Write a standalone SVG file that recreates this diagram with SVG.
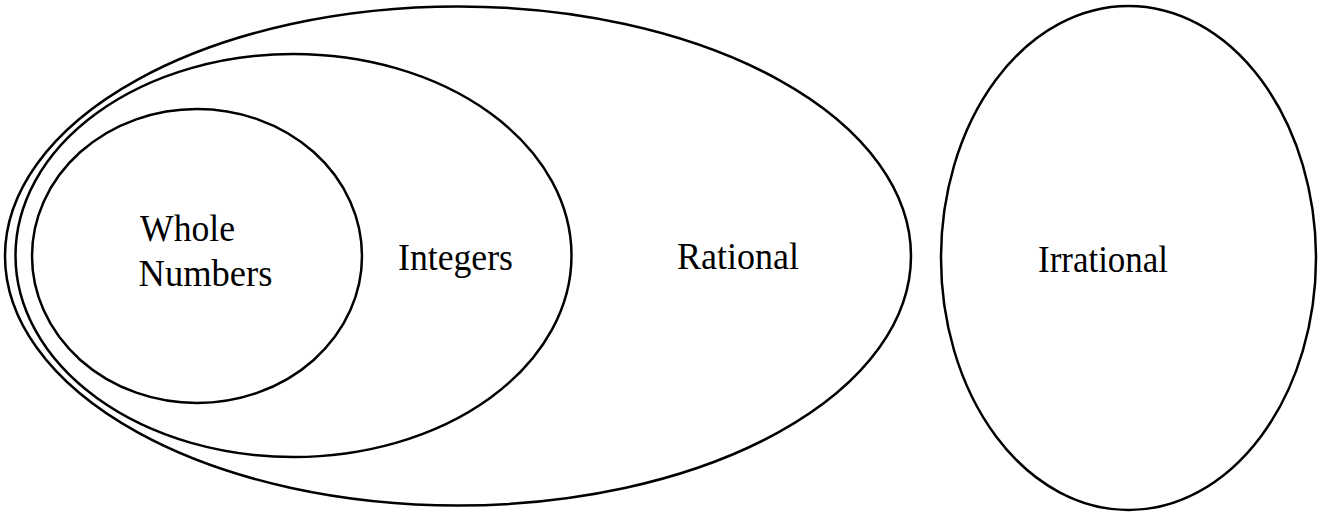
<svg xmlns="http://www.w3.org/2000/svg" width="1325" height="512" viewBox="0 0 1325 512">
<style>
.set{fill:none;stroke:#000;stroke-width:2.5}
.lbl{font-family:"Liberation Serif","Times New Roman",serif;font-size:37px;fill:#000}
</style>
<rect width="1325" height="512" fill="#fff"/>
<g id="rational">
<ellipse class="set" cx="458" cy="256" rx="453" ry="249.5"/>
<text class="lbl" x="677" y="269" textLength="122" lengthAdjust="spacingAndGlyphs">Rational</text>
</g>
<g id="integers">
<ellipse class="set" cx="293.5" cy="255.5" rx="278" ry="201.5"/>
<text class="lbl" x="398" y="270" textLength="115" lengthAdjust="spacingAndGlyphs">Integers</text>
</g>
<g id="whole-numbers">
<ellipse class="set" cx="197" cy="256" rx="165" ry="147"/>
<text class="lbl" x="140" y="241" textLength="95" lengthAdjust="spacingAndGlyphs">Whole</text>
<text class="lbl" x="138.5" y="286" textLength="134" lengthAdjust="spacingAndGlyphs">Numbers</text>
</g>
<g id="irrational">
<ellipse class="set" cx="1128.5" cy="258" rx="187.5" ry="252"/>
<text class="lbl" x="1038" y="272" textLength="130" lengthAdjust="spacingAndGlyphs">Irrational</text>
</g>
<g id="connectors"></g>
</svg>
